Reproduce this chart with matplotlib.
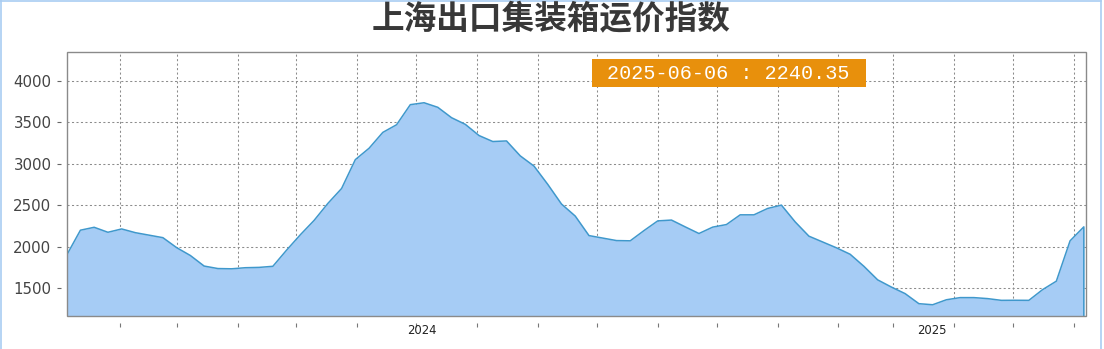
import pandas as pd
import matplotlib
matplotlib.use('Agg')
import matplotlib.pyplot as plt
import matplotlib.dates as mdates
from matplotlib.patches import Rectangle
from matplotlib.lines import Line2D
import matplotlib.transforms as mtransforms

plt.rcParams['font.family'] = ['Noto Sans CJK SC', 'DejaVu Sans']

# weekly SCFI readings
dates = pd.date_range('2024-01-05', '2025-06-06', freq='7D')
values = [
    1900, 2200, 2235, 2175, 2215, 2170, 2140, 2110, 1990, 1895,
    1768, 1738, 1735, 1748, 1752, 1765, 1960, 2145, 2318, 2522,
    2702, 3050, 3187, 3378, 3470, 3712, 3735, 3680, 3555, 3475,
    3340, 3268, 3275, 3095, 2972, 2752, 2515, 2370, 2135, 2105,
    2075, 2072, 2195, 2312, 2322, 2240, 2160, 2237, 2268, 2385,
    2385, 2462, 2502, 2300, 2128, 2058, 1988, 1910, 1765, 1602,
    1515, 1436, 1315, 1302, 1362, 1388, 1388, 1376, 1355, 1356,
    1355, 1484, 1586, 2072, 2240.35,
]
year_labels = ['2024', '2025']
yticks = [1500, 2000, 2500, 3000, 3500, 4000]
title = '上海出口集装箱运价指数'

ymin, ymax = 1170, 4342
xmin, xmax = pd.Timestamp('2024-01-05'), pd.Timestamp('2025-06-07 08:00')

fig = plt.figure(figsize=(11.04, 3.49), dpi=100)
ax = fig.add_axes([0.0604, 0.0954, 0.9237, 0.7546])

# filled area and its outline (including the vertical edges at both ends)
ax.fill_between(dates, values, ymin, color='#a6ccf5', linewidth=0, zorder=2)
out_x = [dates[0]] + list(dates) + [dates[-1]]
out_y = [ymin] + values + [ymin]
ax.plot(out_x, out_y, color='#3f98cc', linewidth=1.1, zorder=3)

ax.set_xlim(xmin, xmax)
ax.set_ylim(ymin, ymax)

# grid
ax.xaxis.set_major_locator(mdates.MonthLocator())
ax.xaxis.set_major_formatter(plt.NullFormatter())
ax.set_yticks(yticks)
ax.grid(True, color='#8c8c8c', linestyle=(0, (2, 2.3)), linewidth=0.75, zorder=1)
ax.set_axisbelow(True)

# frame drawn separately, spines pushed out so ticks sit away from the frame
for s in ax.spines.values():
    s.set_visible(False)
ax.spines['left'].set_visible(True)
ax.spines['bottom'].set_visible(True)
ax.spines['left'].set_position(('outward', 4))
ax.spines['bottom'].set_position(('outward', 5))
ax.spines['left'].set_color('none')
ax.spines['bottom'].set_color('none')
ax.add_patch(Rectangle((0, 0), 1, 1, transform=ax.transAxes, fill=False,
                       edgecolor='#8a8a8a', linewidth=1.0, clip_on=False, zorder=4))

ax.tick_params(axis='y', direction='out', length=3, width=0.8, color='#666666',
               labelsize=10.8, labelcolor='#444444', pad=4)
for lbl in ax.get_yticklabels():
    lbl.set_family('DejaVu Sans')
ax.tick_params(axis='x', which='major', direction='out', length=3, width=0.8,
               color='#777777')

# longer light tick at the year boundary
ax.xaxis.set_minor_locator(mdates.YearLocator())
ax.xaxis.set_minor_formatter(plt.NullFormatter())
ax.tick_params(axis='x', which='minor', direction='out', length=20, width=0.8,
               color='#cccccc')

# year labels centred in the visible part of each year
trans = mtransforms.blended_transform_factory(ax.transData, ax.transAxes)
bounds = [xmin, pd.Timestamp('2025-01-01'), xmax]
for i, lab in enumerate(year_labels):
    mid = bounds[i] + (bounds[i + 1] - bounds[i]) / 2
    ax.text(mdates.date2num(mid), -0.058, lab, transform=trans, ha='center',
            va='center', fontsize=8.4, color='#222222', family='DejaVu Sans')

# last value badge
ax.add_patch(Rectangle((0.515, 0.867), 0.269, 0.106, transform=ax.transAxes,
                       facecolor='#e8900c', edgecolor='none', zorder=5))
ax.text(0.649, 0.918, f"{dates[-1]:%Y-%m-%d} : {values[-1]:.2f}",
        transform=ax.transAxes, ha='center', va='center', color='white',
        fontsize=14.5, family='Liberation Mono', zorder=6)

fig.text(0.499, 0.943, title, ha='center', va='center', fontsize=23.5,
         fontweight='bold', color='#383838')

# light blue page border
for xs, ys in [([0.001, 0.001], [0, 1]), ([0, 0.9975], [0.998, 0.998]),
               ([0.9975, 0.9975], [0, 1])]:
    fig.add_artist(Line2D(xs, ys, transform=fig.transFigure, color='#a9cdf2',
                          linewidth=1.2))

fig.savefig('out.png', dpi=100)
